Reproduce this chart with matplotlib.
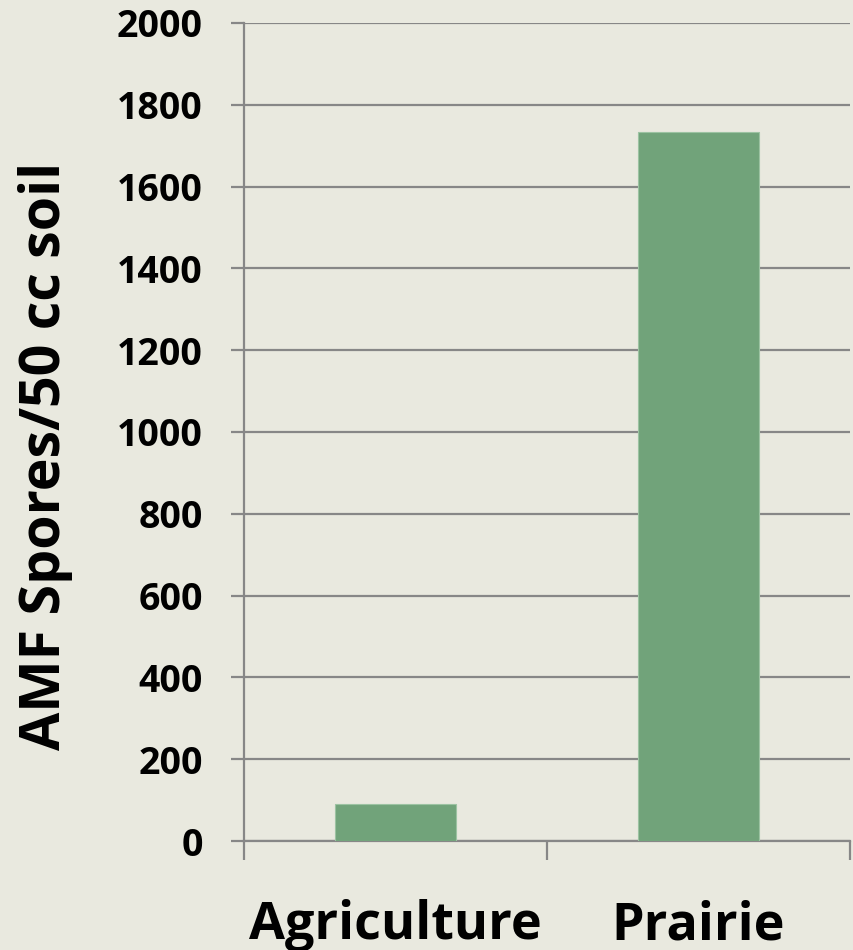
import matplotlib

matplotlib.use("Agg")
import matplotlib.pyplot as plt
import numpy as np

# data
categories = ["Agriculture", "Prairie"]
spores = [90, 1733]
y_ticks = list(range(0, 2001, 200))

BG = "#E9E9DF"
BAR = "#71A37A"
GRID = "#878787"

plt.rcParams["font.family"] = ["Open Sans", "DejaVu Sans"]
plt.rcParams["font.weight"] = "bold"

fig = plt.figure(figsize=(8.54, 9.5), dpi=100, facecolor=BG)
ax = fig.add_axes([244 / 854, 1 - 841 / 950, 606 / 854, 818 / 950])
ax.set_facecolor(BG)

x = np.arange(len(categories))
ax.bar(x, spores, width=0.4, color=BAR, edgecolor="#9CC3A2", linewidth=0.8, zorder=3)

ax.set_xlim(-0.5, len(categories) - 0.5)
ax.set_ylim(0, 2000)
ax.set_yticks(y_ticks)
ax.set_yticklabels([str(v) for v in y_ticks], fontsize=27, fontweight="bold")
ax.yaxis.grid(True, color=GRID, linewidth=1.6, zorder=0)
ax.set_axisbelow(True)

# category labels at centres, tick marks at the boundaries
ax.set_xticks(x)
ax.set_xticklabels(categories, fontsize=37.5, fontweight="bold")
ax.set_xticks(np.arange(-0.5, len(categories), 1.0), minor=True)
ax.tick_params(axis="x", which="major", length=0, pad=42)
ax.tick_params(axis="x", which="minor", length=14, width=1.6, color=GRID, direction="out")
ax.tick_params(axis="y", length=9.5, width=1.6, color=GRID, pad=20)

for s in ["top", "right"]:
    ax.spines[s].set_visible(False)
for s in ["left", "bottom"]:
    ax.spines[s].set_color(GRID)
    ax.spines[s].set_linewidth(1.6)

ax.set_ylabel("AMF Spores/50 cc soil", fontsize=40, fontweight="bold", va="center")
ax.yaxis.set_label_coords(-0.328, 0.4707)

fig.savefig("out.png", dpi=100, facecolor=BG)
